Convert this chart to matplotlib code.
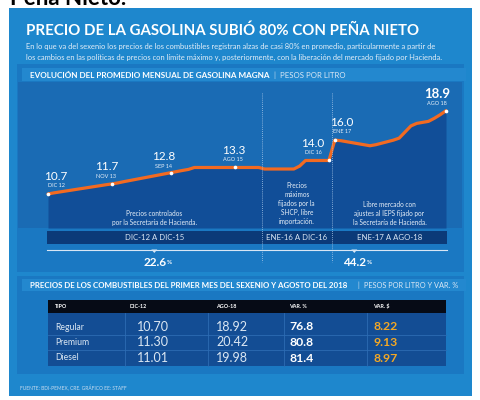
import matplotlib.pyplot as plt
from matplotlib.patches import Rectangle, Polygon

plt.rcParams['font.family'] = ['Lato', 'DejaVu Sans']

# promedio mensual gasolina magna, dic-12 a ago-18 (pesos por litro)
magna = [10.70, 10.81, 10.90, 10.99, 11.08, 11.17, 11.26, 11.35, 11.44, 11.53, 11.62, 11.70,
         11.80, 11.92, 12.03, 12.14, 12.25, 12.36, 12.47, 12.58, 12.69, 12.80,
         12.91, 13.02, 13.12,
         13.31, 13.31, 13.31, 13.31, 13.31, 13.31, 13.31, 13.31, 13.31, 13.31, 13.31, 13.31,
         13.16, 13.16, 13.16, 13.16, 13.16, 13.16, 13.45, 14.00, 14.00, 14.00, 14.00, 14.00,
         16.00, 15.95, 15.85, 15.75, 15.65, 15.55, 15.45, 15.55, 15.70, 15.85, 16.00, 16.20,
         16.80, 17.40, 17.65, 17.75, 17.85, 18.15, 18.50, 18.90]
meses = list(range(len(magna)))

# puntos destacados
idx_dest = [0, 11, 21, 32, 48, 49, 68]
val_dest = ['10.7', '11.7', '12.8', '13.3', '14.0', '16.0', '18.9']
fecha_dest = ['DIC 12', 'NOV 13', 'SEP 14', 'AGO 15', 'DIC 16', 'ENE 17', 'AGO 18']
desplaz = [(8, 18), (-6, 17), (-7, 16), (-2, 17), (-16, 17), (7, 18), (-9, 17)]

# periodos
cortes = [36.5, 48.5]
periodos = ['DIC-12 A DIC-15', 'ENE-16 A DIC-16', 'ENE-17 A AGO-18']
notas = ['Precios controlados\npor la Secretaría de Hacienda.',
         'Precios\nmáximos\nfijados por la\nSHCP, libre\nimportación.',
         'Libre mercado con\najustes al IEPS fijado por\nla Secretaría de Hacienda.']
variaciones = ['22.6', '44.2']

# tabla
cols = ['TIPO', 'DIC-12', 'AGO-18', 'VAR. %', 'VAR. $']
tipos = ['Regular', 'Premium', 'Diesel']
dic12 = ['10.70', '11.30', '11.01']
ago18 = ['18.92', '20.42', '19.98']
var_pct = ['76.8', '80.8', '81.4']
var_pesos = ['8.22', '9.13', '8.97']

W, H = 480, 400
fig = plt.figure(figsize=(4.8, 4.0), dpi=100)
fig.patch.set_facecolor('white')

bg = fig.add_axes([0, 0, 1, 1], zorder=0)
bg.set_xlim(0, W); bg.set_ylim(H, 0); bg.axis('off')

def rect(ax, x0, y0, x1, y1, c, **kw):
    ax.add_patch(Rectangle((x0, y0), x1 - x0, y1 - y0, facecolor=c, edgecolor='none', **kw))

# titulo cortado arriba
fig.text(0.02, 1 - 5 / H, 'Peña Nieto.', fontsize=16, fontweight='bold', color='black',
         va='baseline')
rect(bg, 9, 8, 472, 396, '#1e87cd')
rect(bg, 17, 64, 464, 272, '#1a78c2')
rect(bg, 22, 68, 466, 81, '#2388cf')
rect(bg, 17, 276, 464, 374, '#1a78c2')
rect(bg, 22, 279, 466, 291, '#2388cf')

# grafica
x0px, x1px, y0px, y1px = 18, 462, 82, 228
ax = fig.add_axes([x0px / W, 1 - y1px / H, (x1px - x0px) / W, (y1px - y0px) / H], zorder=1)
ppm = (446 - 48) / 68
ppp = (194 - 110.7) / (18.9 - 10.7)
ax.set_xlim(-(48 - x0px) / ppm, 68 + (x1px - 446) / ppm)
ax.set_ylim(10.7 - (y1px - 194) / ppp, 18.9 + (110.7 - y0px) / ppp)
ax.set_facecolor('#1a6bb4')
for s in ax.spines.values():
    s.set_visible(False)
ax.set_xticks([]); ax.set_yticks([])
ax.fill_between(meses, magna, ax.get_ylim()[0], color='#114e98', lw=0)
ax.plot(meses, magna, color='#f26a21', lw=2.3, solid_capstyle='round', solid_joinstyle='round')
for i, v, f, (dx, dy) in zip(idx_dest, val_dest, fecha_dest, desplaz):
    ax.scatter([meses[i]], [magna[i]], s=7, color='white', zorder=5, lw=0)
    grande = i == idx_dest[-1]
    ax.annotate(v, (meses[i], magna[i]), xytext=(dx, dy), textcoords='offset pixels',
                ha='center', va='center', color='white', fontsize=9.5 if grande else 8.5,
                fontweight='bold' if grande else 'normal')
    ax.annotate(f, (meses[i], magna[i]), xytext=(dx, dy - 9.5), textcoords='offset pixels',
                ha='center', va='center', color='#e8f0f8', fontsize=4)

ov = fig.add_axes([0, 0, 1, 1], zorder=2)
ov.set_xlim(0, W); ov.set_ylim(H, 0); ov.axis('off')
ov.patch.set_alpha(0)

def mx(m):
    return 48 + m * ppm

# encabezados
ov.text(26, 31, 'PRECIO DE LA GASOLINA SUBIÓ 80% CON PEÑA NIETO', color='white',
        fontsize=10.8, fontweight='bold', va='center')
ov.text(26, 46, 'En lo que va del sexenio los precios de los combustibles registran alzas de casi 80% en promedio, particularmente a partir de',
        color='#e3eef8', fontsize=5.45, va='center')
ov.text(26, 57.5, 'los cambios en las políticas de precios con límite máximo y, posteriormente, con la liberación del mercado fijado por Hacienda.',
        color='#e3eef8', fontsize=5.45, va='center')
ov.text(30, 75, 'EVOLUCIÓN DEL PROMEDIO MENSUAL DE GASOLINA MAGNA', color='white',
        fontsize=5.85, fontweight='bold', va='center')
ov.text(273, 75, '|', color='#cfe0f1', fontsize=5.6, va='center')
ov.text(280, 75, 'PESOS POR LITRO', color='#dbe8f5', fontsize=5.6, va='center')

# periodos
limites = [47, mx(cortes[0]), mx(cortes[1]), 447]
rect(ov, 47, 231, 447, 243.5, '#0b3a78')
for k in range(3):
    cx = (limites[k] + limites[k + 1]) / 2
    ov.text(cx, 237.5, periodos[k], color='#dce8f5', fontsize=5.6, ha='center', va='center')
notas_y = [223, 222, 223]
for k in range(3):
    cx = (limites[k] + limites[k + 1]) / 2
    ov.text(cx, notas_y[k] + 3, notas[k], color='#e6eef7', fontsize=4.7, ha='center',
            va='bottom', linespacing=1.35)
for c in cortes:
    ov.plot([mx(c), mx(c)], [93, 262], color='#a9c8e8', lw=0.6, ls=(0, (1, 1.5)))
ov.plot([47, 447], [249.5, 249.5], color='#d7e6f5', lw=0.8)
tramos = [(limites[0], limites[1]), (limites[1], limites[3])]
for (a, b), v in zip(tramos, variaciones):
    cx = (a + b) / 2
    ov.add_patch(Polygon([[cx - 3, 249.5], [cx + 3, 249.5], [cx, 253]], closed=True,
                         facecolor='#d7e6f5', edgecolor='none'))
    ov.text(cx + 12, 262, v, color='white', fontsize=8.5, fontweight='bold', ha='right', va='center')
    ov.text(cx + 12.5, 263, '%', color='white', fontsize=4.5, fontweight='bold', ha='left', va='center')

# tabla
ov.text(30, 285, 'PRECIOS DE LOS COMBUSTIBLES DEL PRIMER MES DEL SEXENIO Y AGOSTO DEL 2018',
        color='white', fontsize=5.65, fontweight='bold', va='center')
ov.text(357, 285, '|', color='#cfe0f1', fontsize=5.2, va='center')
ov.text(364, 285, 'PESOS POR LITRO Y VAR. %', color='#dbe8f5', fontsize=5.3, va='center')

rect(ov, 48, 300, 446, 313, '#060b16')
rect(ov, 48, 313, 446, 366, '#134d94')
col_x = [55, 130, 216, 289, 373]
for x, c in zip(col_x, cols):
    ov.text(x, 306.5, c, color='white', fontsize=3.9, fontweight='bold', va='center')
for y in [334.5, 350]:
    ov.plot([48, 446], [y, y], color='#2d6cb3', lw=0.6)
for x in [125, 208, 284, 367]:
    ov.plot([x, x], [313, 366], color='#2d6cb3', lw=0.6)
filas_y = [327, 342.5, 358]
for j in range(3):
    y = filas_y[j]
    ov.text(55, y, tipos[j], color='#dbe7f3', fontsize=6.2, va='center')
    ov.text(137, y, dic12[j], color='#dbe7f3', fontsize=9, va='center')
    ov.text(216, y, ago18[j], color='#dbe7f3', fontsize=9, va='center')
    ov.text(289, y, var_pct[j], color='white', fontsize=8.8, fontweight='bold', va='center')
    ov.text(373, y, var_pesos[j], color='#f4a824', fontsize=8.8, fontweight='bold', va='center')

ov.text(20, 388, 'FUENTE: BDI-PEMEX, CRE. GRÁFICO EE: STAFF', color='#c8dcef', fontsize=3.5,
        va='center')

fig.savefig('out.png', dpi=100)
